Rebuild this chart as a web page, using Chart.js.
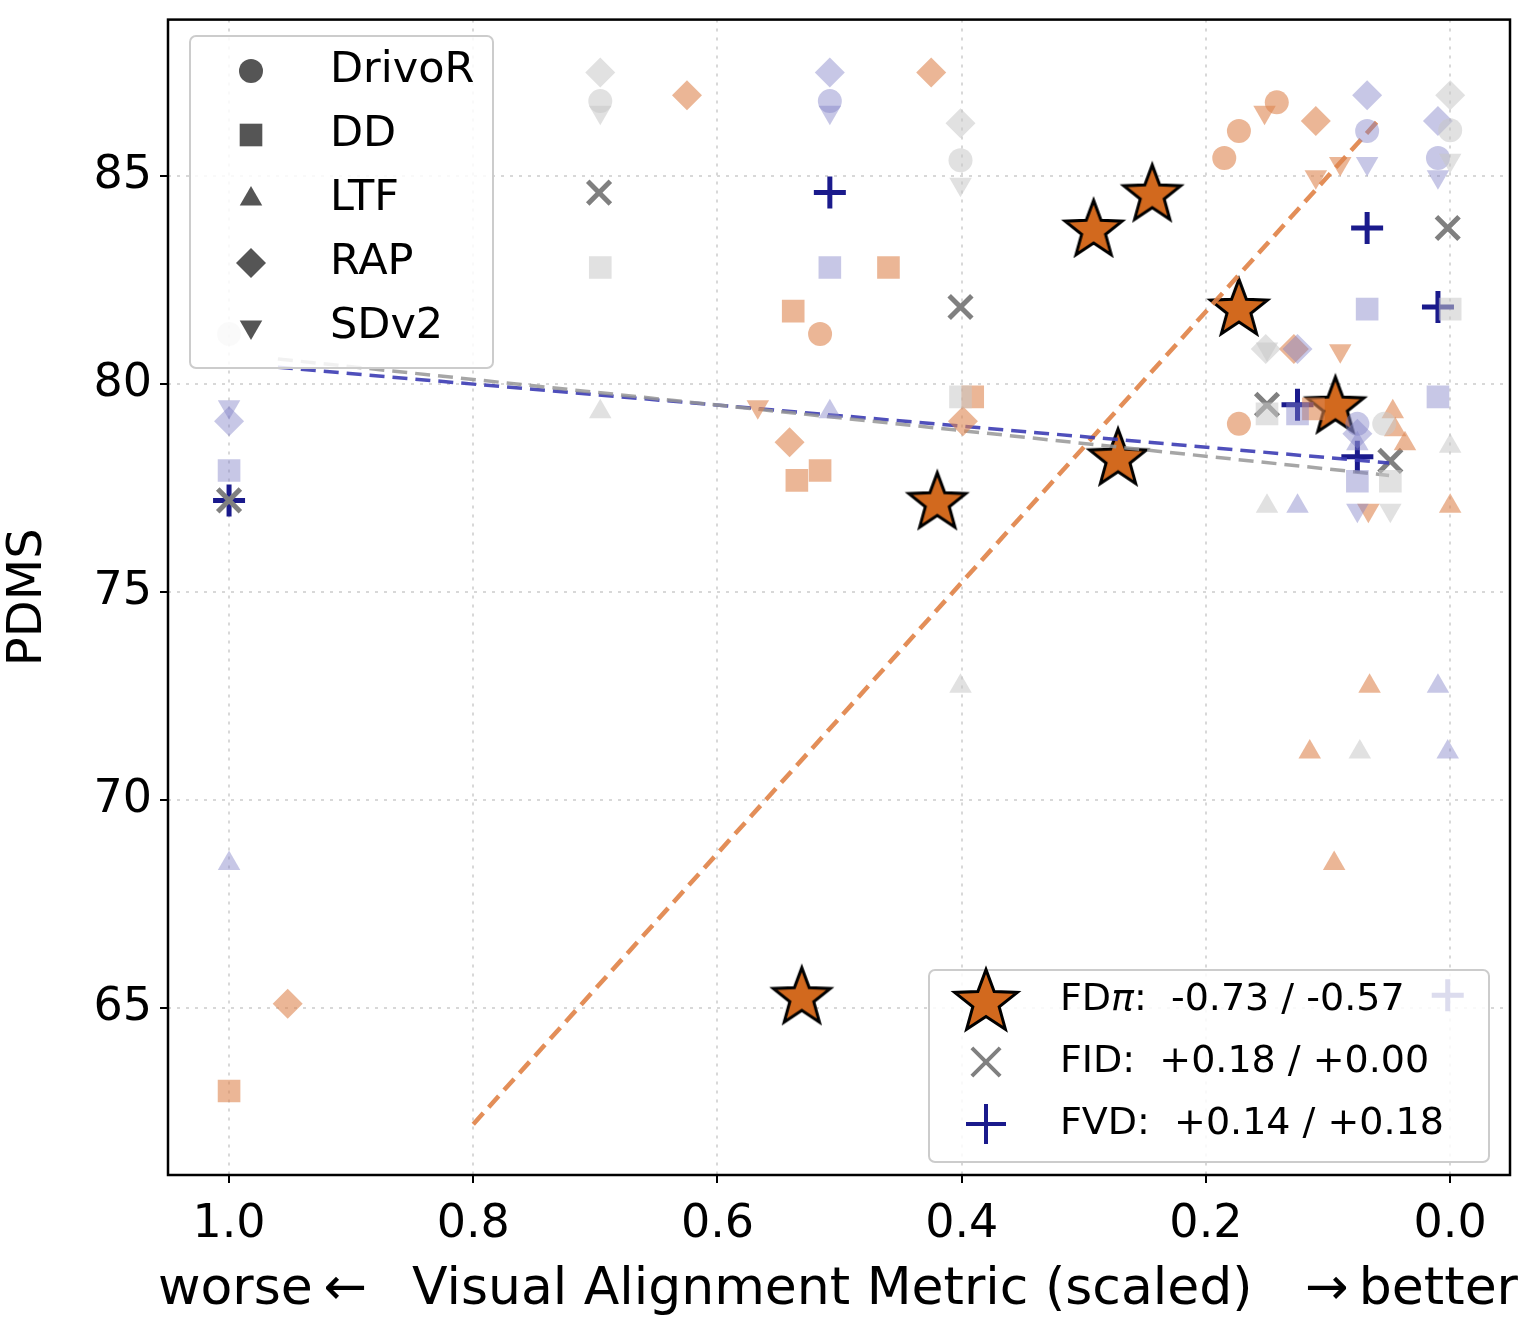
<!DOCTYPE html>
<html><head><meta charset="utf-8">
<script src="https://cdn.jsdelivr.net/npm/chart.js@4"></script>
<style>html,body{margin:0;padding:0;background:#fff;overflow:hidden}#o{width:1531px;height:1330px;overflow:hidden;position:relative}#w{position:absolute;left:0;top:-16px;width:1541px;height:1346px}</style>
</head><body><div id="o"><div id="w"><canvas id="c"></canvas></div></div>
<script>
// ---- data ----
const planners = ["DrivoR","DD","LTF","RAP","SDv2"];
const metrics = ["FD","FID","FVD"];
const metricCorr = ["-0.73 / -0.57","+0.18 / +0.00","+0.14 / +0.18"];
const xTicks = [1.0,0.8,0.6,0.4,0.2,0.0];
const yTicks = [65,70,75,80,85];
// aggregated points per metric
const fdpiX = [0.42,0.531,0.292,0.244,0.173,0.272,0.094];
const fdpiY = [77.2,65.3,83.75,84.6,81.85,78.25,79.5];
const fidX = [0.697,0.401,0.150,0.049,0.002,1.0];
const fidY = [84.6,81.85,79.5,78.15,83.75,77.2];
const fvdX = [0.508,1.0,0.068,0.010,0.125,0.076,0.002];
const fvdY = [84.6,77.2,83.75,81.85,79.5,78.25,65.3];
// per-planner points: FDπ
const fdpi_DrivoR_X=[0.185,0.173,0.142,0.516,0.173], fdpi_DrivoR_Y=[85.43,86.08,86.77,81.2,79.04];
const fdpi_DD_X=[1.0,0.538,0.46,0.535,0.516,0.391,0.112], fdpi_DD_Y=[63.0,81.75,82.8,77.68,77.92,79.69,79.4];
const fdpi_LTF_X=[0.0,0.066,0.115,0.095,0.047,0.045,0.037], fdpi_LTF_Y=[77.06,72.73,71.15,68.47,79.33,78.9,78.56];
const fdpi_RAP_X=[0.625,0.425,0.952,0.541,0.399,0.11,0.128], fdpi_RAP_Y=[86.94,87.49,65.1,78.6,79.1,86.32,80.84];
const fdpi_SDv2_X=[0.567,0.152,0.11,0.09,0.09,0.067], fdpi_SDv2_Y=[79.45,86.53,84.98,85.3,80.8,76.96];
// FID
const fid_DrivoR_X=[1.0,0.696,0.401,0.0,0.054], fid_DrivoR_Y=[81.2,86.8,85.38,86.1,79.04];
const fid_DD_X=[0.696,0.401,0.0,0.049,0.15], fid_DD_Y=[82.8,79.69,81.8,77.66,79.28];
const fid_LTF_X=[0.696,0.401,0.0,0.074,0.15], fid_LTF_Y=[79.33,72.73,78.5,71.15,77.06];
const fid_RAP_X=[0.696,0.401,0.0,0.151], fid_RAP_Y=[87.49,86.27,86.94,80.84];
const fid_SDv2_X=[0.696,0.401,0.0,0.049,0.15], fid_SDv2_Y=[86.53,84.8,85.38,76.96,80.84];
// FVD
const fvd_DrivoR_X=[0.508,0.068,0.01,0.076], fvd_DrivoR_Y=[86.8,86.08,85.43,79.04];
const fvd_DD_X=[1.0,0.508,0.068,0.01,0.076,0.125], fvd_DD_Y=[77.92,82.8,81.8,79.69,77.66,79.28];
const fvd_LTF_X=[1.0,0.508,0.01,0.002,0.125,0.076], fvd_LTF_Y=[68.47,79.33,72.73,71.15,77.06,78.56];
const fvd_RAP_X=[1.0,0.508,0.068,0.01,0.125,0.076], fvd_RAP_Y=[79.1,87.49,86.94,86.32,80.84,78.8];
const fvd_SDv2_X=[1.0,0.508,0.068,0.01,0.076], fvd_SDv2_Y=[79.45,86.53,85.3,84.98,76.96];
// fit lines (endpoints)
const fitFdpiX=[0.80,0.06], fitFdpiY=[62.2,86.3];
const fitFidX=[0.96,0.05], fitFidY=[80.6,77.8];
const fitFvdX=[0.96,0.05], fitFvdY=[80.4,78.1];

// ---- styling ----
const ORANGE='#d2691e', ORANGE_F='rgba(221,133,80,0.6)', GRAY_F='rgba(200,200,200,0.55)', BLUE_F='rgba(130,130,200,0.45)';
const zip=(xs,ys)=>xs.map((x,i)=>({x,y:ys[i]}));
function starCanvas(r,fill){const s=2*r+8,c=document.createElement('canvas');c.width=s;c.height=s;const g=c.getContext('2d');g.beginPath();
 for(let i=0;i<10;i++){const a=-Math.PI/2+i*Math.PI/5,rr=i%2?r*0.42:r;g.lineTo(s/2+rr*Math.cos(a),s/2+rr*Math.sin(a)+r*0.08);}g.closePath();g.fillStyle=fill;g.fill();g.lineWidth=3;g.strokeStyle='#000';g.lineJoin='miter';g.stroke();return c;}
const star=starCanvas(30,ORANGE), starL=starCanvas(33,ORANGE);
const shapes={DrivoR:['circle',0],DD:['rect',0],LTF:['triangle',0],RAP:['rectRot',0],SDv2:['triangle',180]};
const sizes={DrivoR:12,DD:16,LTF:13,RAP:15,SDv2:13};
const datasets=[];
const faint={fdpi:ORANGE_F,fid:GRAY_F,fvd:BLUE_F};
for(const m of ['fid','fvd','fdpi']){for(const p of planners){const xs=eval(m+'_'+p+'_X'),ys=eval(m+'_'+p+'_Y');
 datasets.push({type:'scatter',data:zip(xs,ys),pointStyle:shapes[p][0],rotation:shapes[p][1],pointRadius:sizes[p],backgroundColor:faint[m],borderWidth:0});}}
function line(xs,ys,c,w){return {type:'line',data:zip(xs,ys),borderColor:c,borderDash:[15,8],borderWidth:w,pointRadius:0,fill:false};}
datasets.push(line(fitFidX,fitFidY,'rgba(150,150,150,0.85)',3.5));
datasets.push(line(fitFvdX,fitFvdY,'rgba(60,60,180,0.9)',3.5));
datasets.push(line(fitFdpiX,fitFdpiY,'rgba(224,130,70,0.9)',4.5));
datasets.push({type:'scatter',data:zip(fidX,fidY),pointStyle:'crossRot',pointRadius:16,borderColor:'#808080',borderWidth:5});
datasets.push({type:'scatter',data:zip(fvdX,fvdY),pointStyle:'cross',pointRadius:16,borderColor:'#1a1a8c',borderWidth:5});
datasets.push({type:'scatter',data:zip(fdpiX,fdpiY),pointStyle:star,pointRadius:30});

const FONT='"DejaVu Sans", sans-serif';
const OY=16;
const deco={id:'deco',afterDraw(ch){const g=ch.ctx,a=ch.chartArea;g.save();
 g.strokeStyle='#000';g.lineWidth=2.5;g.strokeRect(a.left,a.top,a.right-a.left,a.bottom-a.top);
 function box(x,y,w,h){g.fillStyle='rgba(255,255,255,0.85)';g.strokeStyle='#ccc';g.lineWidth=2;g.beginPath();g.roundRect(x,y+OY,w,h,6);g.fill();g.stroke();}
 box(190,36,303,332);
 g.font='43px '+FONT;g.textBaseline='middle';
 planners.forEach((p,i)=>{const y=71+i*64+OY;g.fillStyle='#555';g.strokeStyle='#555';
  Chart.helpers.drawPoint(g,{pointStyle:shapes[p][0],rotation:shapes[p][1],radius:sizes[p],borderWidth:0},251,y);
  g.fillStyle='#000';g.fillText(p,330,y);});
 box(929,970,560,192);
 const ys=[1000+OY,1062+OY,1124+OY];
 g.drawImage(starL,986-starL.width/2,ys[0]-starL.width/2);
 g.strokeStyle='#808080';g.lineWidth=4;Chart.helpers.drawPoint(g,{pointStyle:'crossRot',radius:20,borderWidth:4},986,ys[1]);
 g.strokeStyle='#1a1a8c';Chart.helpers.drawPoint(g,{pointStyle:'cross',radius:20,borderWidth:4},986,ys[2]);
 g.fillStyle='#000';g.font='38px '+FONT;
 g.fillText('FD',1060,ys[0]);let w=g.measureText('FD').width;
 g.font='italic 38px '+FONT;g.fillText('π',1060+w,ys[0]);w+=g.measureText('π').width;
 g.font='38px '+FONT;g.fillText(':  '+metricCorr[0],1060+w,ys[0]);
 g.fillText(metrics[1]+':  '+metricCorr[1],1060,ys[1]);
 g.fillText(metrics[2]+':  '+metricCorr[2],1060,ys[2]);
 g.font='52px '+FONT;g.textAlign='left';
 g.fillText('worse\u2009←',158,1290+OY);
 g.fillText('Visual Alignment Metric (scaled)',412,1290+OY);
 g.textAlign='right';g.fillText('→\u2009better',1518,1290+OY);
 g.restore();}};

new Chart(document.getElementById('c'),{data:{datasets},plugins:[deco],
 options:{responsive:true,maintainAspectRatio:false,animation:false,
  layout:{padding:{top:0,right:11,left:0,bottom:0}},
  plugins:{legend:{display:false},tooltip:{enabled:false}},
  scales:{
   x:{type:'linear',reverse:true,min:-0.049,max:1.05,
    afterBuildTicks(s){s.ticks=xTicks.map(v=>({value:v}));},
    afterFit(s){s.height=155;},
    ticks:{callback:v=>v.toFixed(1),font:{size:46,family:FONT},color:'#000',padding:14},
    grid:{color:'#d8d8d8',lineWidth:2,tickColor:'#000',tickLength:8,drawTicks:true},border:{dash:[3,6],display:false}},
   y:{type:'linear',min:60.98,max:88.76,
    afterBuildTicks(s){s.ticks=yTicks.map(v=>({value:v}));},
    afterFit(s){s.width=168;},
    ticks:{font:{size:46,family:FONT},color:'#000',padding:8},
    title:{display:true,text:'PDMS',font:{size:48,family:FONT},color:'#000',padding:0},
    grid:{color:'#d8d8d8',lineWidth:2,tickColor:'#000',tickLength:8},border:{dash:[3,6],display:false}}
  }}});
</script></body></html>
